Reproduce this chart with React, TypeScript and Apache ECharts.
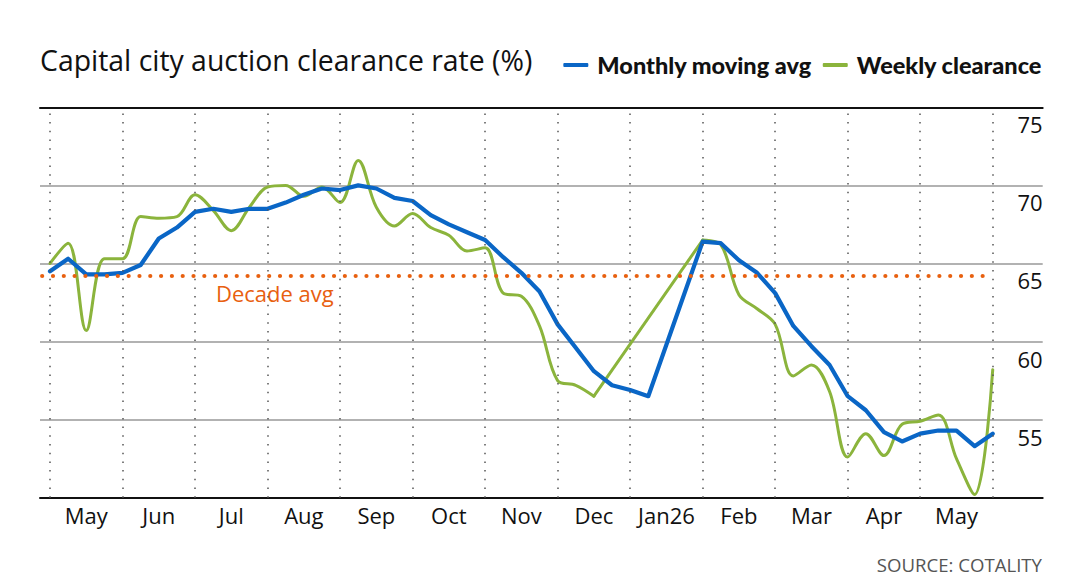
import React, { useEffect, useRef } from "react";
import * as echarts from "echarts";

// ---- data ----
const monthLabels = ["May", "Jun", "Jul", "Aug", "Sep", "Oct", "Nov", "Dec", "Jan26", "Feb", "Mar", "Apr", "May"];
const slotsPerMonth = 4; // quarter-month positions from 1 May 2025

// Monthly moving average (null = no data)
const monthlyAvg: (number | null)[] = [
  64.5, 65.3, 64.3, 64.3, 64.4, 64.9, 66.6, 67.3, 68.3, 68.5, 68.3, 68.5,
  68.5, 68.9, 69.4, 69.8, 69.7, 70.0, 69.8, 69.2, 69.0, 68.1, 67.5, 67.0,
  66.5, 65.4, 64.4, 63.2, 61.1, 59.6, 58.1, 57.2, 56.9, 56.5, null, null,
  66.4, 66.3, 65.2, 64.4, 63.1, 61.0, 59.7, 58.5, 56.5, 55.6, 54.2, 53.6,
  54.1, 54.3, 54.3, 53.3, 54.1,
];

// Weekly clearance rate
const weeklyClearance: (number | null)[] = [
  65.0, 66.3, 60.7, 65.3, 65.3, 68.0, 67.9, 68.0, 69.4, 68.4, 67.1, 68.6,
  69.9, 70.0, 69.3, 69.9, 68.9, 71.6, 68.6, 67.4, 68.2, 67.3, 66.8, 65.8,
  66.0, 63.1, 62.9, 61.0, 57.5, 57.2, 56.5, null, null, null, null, null,
  66.5, 66.2, 63.0, 62.1, 61.1, 57.8, 58.5, 56.8, 52.6, 54.1, 52.7, 54.7,
  54.9, 55.3, 52.5, 50.2, 58.2,
];

const decadeAvg = 64.2;
const yMin = 50;
const yMax = 75;
const yStep = 5;

// ---- layout ----
const X_MIN = -0.138;
const X_MAX = 13.689;
const BLUE = "#0a66c6";
const GREEN = "#8bb43c";
const ORANGE = "#e8600f";

const toPairs = (arr: (number | null)[]) =>
  arr
    .map((v, i) => (v == null ? null : [i / slotsPerMonth, v]))
    .filter((p) => p !== null) as number[][];

// split a series into runs of consecutive values, plus straight bridges across gaps
const splitRuns = (arr: (number | null)[]) => {
  const runs: number[][][] = [];
  const bridges: number[][][] = [];
  let cur: number[][] = [];
  let last: number[] | null = null;
  arr.forEach((v, i) => {
    if (v == null) {
      if (cur.length) runs.push(cur);
      cur = [];
      return;
    }
    const p = [i / slotsPerMonth, v];
    if (!cur.length && last) bridges.push([last, p]);
    cur.push(p);
    last = p;
  });
  if (cur.length) runs.push(cur);
  return { runs, bridges };
};

export default function App() {
  const ref = useRef<HTMLDivElement>(null);

  useEffect(() => {
    if (!ref.current) return;
    const chart = echarts.init(ref.current, null, { renderer: "svg" });
    const monthBoundaries = Array.from({ length: monthLabels.length + 1 }, (_, i) => i);
    const labelPositions = monthLabels.map((_, i) => i + 0.5);
    const weekly = splitRuns(weeklyClearance);

    const weeklySeries = [
      ...weekly.runs.map((run) => ({ data: run, smooth: 0.35 })),
      ...weekly.bridges.map((b) => ({ data: b, smooth: false })),
    ].map((s) => ({
      name: "Weekly clearance",
      type: "line",
      data: s.data,
      smooth: s.smooth,
      showSymbol: false,
      z: 3,
      lineStyle: { color: GREEN, width: 3, cap: "round", join: "round" },
      itemStyle: { color: GREEN },
    }));

    chart.setOption({
      animation: false,
      backgroundColor: "#ffffff",
      title: [
        {
          text: "Capital city auction clearance rate (%)",
          left: 40,
          top: 46,
          padding: 0,
          textStyle: { fontFamily: "Open Sans", fontSize: 28.4, fontWeight: "normal", color: "#111" },
        },
        {
          text: "SOURCE: COTALITY",
          right: 38,
          top: 555,
          padding: 0,
          textStyle: { fontFamily: "Open Sans", fontSize: 18.6, fontWeight: "normal", color: "#555" },
        },
      ],
      legend: {
        right: 38,
        top: 53,
        padding: 0,
        icon: "roundRect",
        itemWidth: 25,
        itemHeight: 4,
        itemGap: 11,
        data: ["Monthly moving avg", "Weekly clearance"],
        textStyle: { fontFamily: "Lato", fontWeight: 900, fontSize: 23.5, color: "#111", padding: [0, 0, 0, 4] },
      },
      grid: { left: 40, right: 37.3, top: 107.3, bottom: 85.3, containLabel: false },
      xAxis: [
        {
          type: "value",
          min: X_MIN,
          max: X_MAX,
          position: "bottom",
          axisLine: { show: true, lineStyle: { color: "#111", width: 2 } },
          axisTick: { show: false },
          splitLine: { show: false },
          axisLabel: {
            customValues: labelPositions,
            formatter: (v: number) => monthLabels[Math.floor(v)] ?? "",
            fontFamily: "Open Sans",
            fontSize: 22,
            color: "#111",
            margin: 6,
          },
        },
        {
          type: "value",
          min: X_MIN,
          max: X_MAX,
          position: "top",
          axisLine: { show: true, onZero: false, lineStyle: { color: "#111", width: 2 } },
          axisTick: { show: false },
          splitLine: { show: false },
          axisLabel: { show: false },
        },
      ],
      yAxis: {
        type: "value",
        position: "right",
        min: yMin,
        max: yMax,
        interval: yStep,
        axisLine: { show: false },
        axisTick: { show: false },
        splitLine: { lineStyle: { color: "#999", width: 1.5 } },
        axisLabel: {
          inside: true,
          margin: 0,
          verticalAlign: "top",
          padding: [6, 0, 0, 0],
          showMinLabel: false,
          fontFamily: "Open Sans",
          fontSize: 22,
          color: "#111",
        },
      },
      graphic: [
        {
          type: "text",
          left: 216,
          top: 282,
          style: { text: "Decade avg", fill: ORANGE, font: '22px "Open Sans"' },
        },
      ],
      series: [
        {
          name: "month grid",
          type: "line",
          data: [],
          silent: true,
          z: 1,
          markLine: {
            silent: true,
            symbol: ["none", "none"],
            label: { show: false },
            lineStyle: { color: "#555", width: 1.5, type: [1.5, 7.2] },
            data: monthBoundaries.map((m) => ({ xAxis: m })),
          },
        },
        {
          name: "Decade avg",
          type: "line",
          data: [],
          silent: true,
          z: 2,
          markLine: {
            silent: true,
            symbol: ["none", "none"],
            label: { show: false },
            lineStyle: { color: ORANGE, width: 4.2, type: [0.01, 10.8], cap: "round" },
            data: [[{ coord: [X_MIN + 0.03, decadeAvg] }, { coord: [monthLabels.length, decadeAvg] }]],
          },
        },
        ...weeklySeries,
        {
          name: "Monthly moving avg",
          type: "line",
          data: toPairs(monthlyAvg),
          showSymbol: false,
          z: 4,
          lineStyle: { color: BLUE, width: 4.2, join: "round", cap: "round" },
          itemStyle: { color: BLUE },
        },
      ],
    });
    return () => chart.dispose();
  }, []);

  return (
    <div
      ref={ref}
      style={{ position: "fixed", left: 0, top: 0, width: 1080, height: 583, background: "#fff" }}
    />
  );
}
